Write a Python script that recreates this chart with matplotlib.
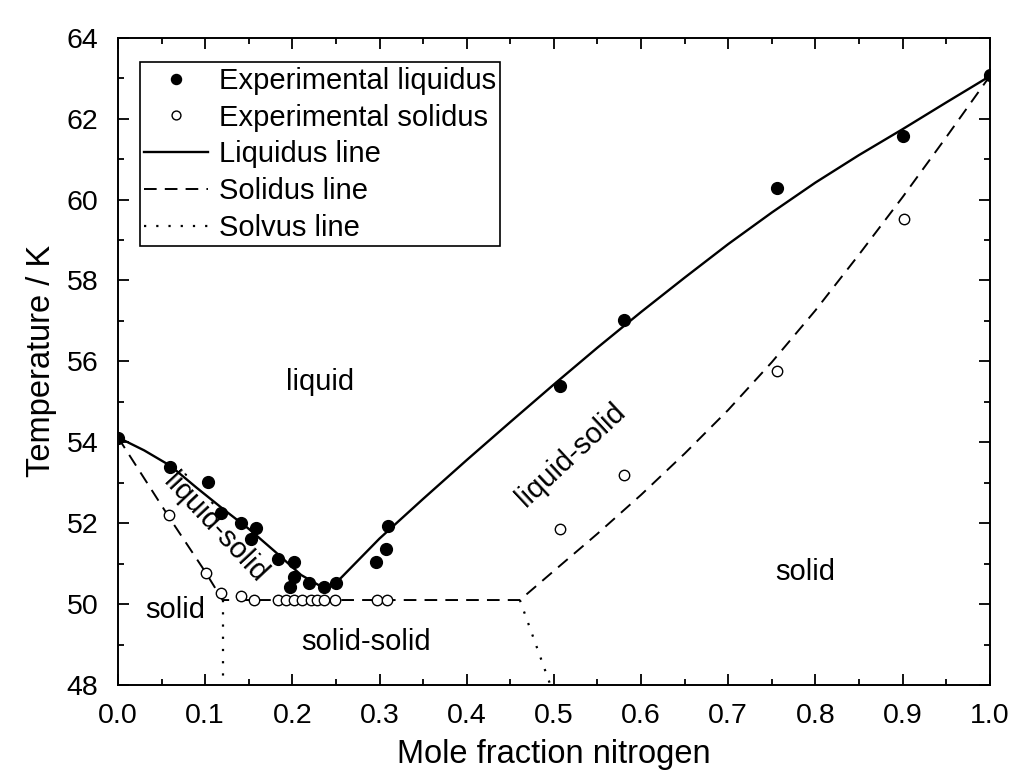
import matplotlib
matplotlib.use('Agg')
import matplotlib.pyplot as plt
from matplotlib.ticker import MultipleLocator, FormatStrFormatter

plt.rcParams['font.family'] = ['Liberation Sans', 'DejaVu Sans']

# experimental points
liq_x = [0.0, 0.06, 0.103, 0.118, 0.141, 0.158, 0.152, 0.183, 0.202, 0.202, 0.197,
         0.219, 0.236, 0.25, 0.296, 0.308, 0.31, 0.507, 0.58, 0.7555, 0.901, 1.0]
liq_T = [54.11, 53.39, 53.03, 52.25, 52.01, 51.88, 51.6, 51.11, 51.05, 50.68, 50.42,
         50.52, 50.42, 50.53, 51.03, 51.36, 51.92, 55.38, 57.03, 60.28, 61.56, 63.08]

sol_x = [0.058, 0.101, 0.118, 0.141, 0.156, 0.183, 0.193, 0.202, 0.211, 0.221,
         0.228, 0.236, 0.249, 0.297, 0.309, 0.507, 0.581, 0.7555, 0.902]
sol_T = [52.19, 50.77, 50.27, 50.2, 50.1, 50.1, 50.1, 50.1, 50.1, 50.1,
         50.1, 50.1, 50.1, 50.1, 50.1, 51.86, 53.19, 55.75, 59.53]

# phase boundary lines
liqline_x = [0.0, 0.03, 0.06, 0.09, 0.12, 0.15, 0.18, 0.21, 0.239,
             0.25, 0.3, 0.35, 0.4, 0.45, 0.5, 0.55, 0.6, 0.65, 0.7, 0.75,
             0.8, 0.85, 0.9, 0.95, 1.0]
liqline_T = [54.12, 53.8, 53.42, 52.88, 52.36, 51.86, 51.3, 50.72, 50.36,
             50.52, 51.62, 52.6, 53.56, 54.5, 55.43, 56.34, 57.22, 58.07, 58.9, 59.68,
             60.42, 61.1, 61.74, 62.4, 63.05]

solline_x = [0.0, 0.06, 0.1, 0.12, 0.461, 0.5, 0.55, 0.6, 0.65, 0.7, 0.75,
             0.8, 0.85, 0.9, 0.95, 1.0]
solline_T = [54.12, 52.1, 50.8, 50.1, 50.1, 50.82, 51.74, 52.7, 53.72, 54.8, 55.98,
             57.26, 58.64, 60.06, 61.54, 63.05]

solvus1_x = [0.12, 0.12]
solvus1_T = [50.1, 48.0]
solvus2_x = [0.461, 0.496]
solvus2_T = [50.1, 48.0]

fig = plt.figure(figsize=(10.12, 7.76), dpi=100)
ax = fig.add_axes([0.1166, 0.1173, 0.8614, 0.834])

ax.plot(liq_x, liq_T, 'o', color='black', ms=8.5, label='Experimental liquidus', zorder=3)
ax.plot(sol_x, sol_T, 'o', mfc='white', mec='black', mew=1.0, ms=7.5,
        label='Experimental solidus', zorder=3)
ax.plot(liqline_x, liqline_T, '-', color='black', lw=1.7, label='Liquidus line')
ax.plot(solline_x, solline_T, color='black', lw=1.4, dashes=(6.5, 4.2), label='Solidus line')
ax.plot(solvus1_x, solvus1_T, color='black', lw=1.6, dashes=(1, 4.5), label='Solvus line')
ax.plot(solvus2_x, solvus2_T, color='black', lw=1.6, dashes=(1, 4.5))

fs = 21
ax.text(0.232, 55.5, 'liquid', fontsize=fs, ha='center', va='center')
ax.text(0.066, 49.86, 'solid', fontsize=fs, ha='center', va='center')
ax.text(0.284, 49.07, 'solid-solid', fontsize=fs, ha='center', va='center')
ax.text(0.788, 50.8, 'solid', fontsize=fs, ha='center', va='center')
ax.text(0.112, 51.88, 'liquid-solid', fontsize=fs, ha='center', va='center', rotation=-47)
ax.text(0.52, 53.7, 'liquid-solid', fontsize=fs, ha='center', va='center', rotation=43)

ax.set_xlim(0, 1.0)
ax.set_ylim(48, 64)
ax.xaxis.set_major_locator(MultipleLocator(0.1))
ax.xaxis.set_minor_locator(MultipleLocator(0.05))
ax.yaxis.set_major_locator(MultipleLocator(2))
ax.yaxis.set_minor_locator(MultipleLocator(1))
ax.xaxis.set_major_formatter(FormatStrFormatter('%.1f'))
ax.tick_params(which='both', direction='in', top=True, right=True, labelsize=20.5, width=1.3)
ax.tick_params(which='major', length=8)
ax.tick_params(which='minor', length=4.5)
ax.tick_params(axis='x', which='major', pad=13)
ax.tick_params(axis='y', which='major', pad=14)
for s in ax.spines.values():
    s.set_linewidth(1.4)

ax.set_xlabel('Mole fraction nitrogen', fontsize=23.5, labelpad=7)
ax.set_ylabel('Temperature / K', fontsize=23.5, labelpad=7)

leg = ax.legend(loc='upper left', bbox_to_anchor=(0.025, 0.962), borderaxespad=0,
                fontsize=21, numpoints=1, markerscale=0.85, handlelength=2.2,
                handletextpad=0.35, labelspacing=0.3, borderpad=0.15,
                fancybox=False, framealpha=1, edgecolor='black')
leg.get_frame().set_linewidth(1.2)

fig.savefig('out.png', dpi=100)
